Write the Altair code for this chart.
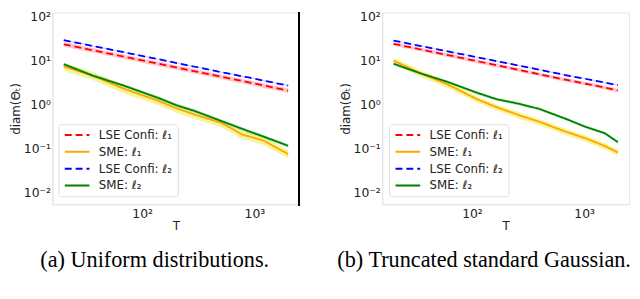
import altair as alt
import pandas as pd

SERIES = ["LSE Confi: ℓ₁", "SME: ℓ₁", "LSE Confi: ℓ₂", "SME: ℓ₂"]
LINE_COLORS = ["#ff0000", "#ffa500", "#0000ff", "#008000"]
BAND_COLORS = ["#ff9aa8", "#f2ea3a", "#9a9aff", "#8fdc8f"]
DASHES = [[7, 4], [1, 0], [7, 4], [1, 0]]

# (a) Uniform distributions
T_A = [20, 36, 70, 140, 204, 295, 500, 615, 776, 887, 1200, 2000]
LSE1_A = [23, 16.9, 11.9, 8.3, 6.8, 5.6, 4.25, 3.8, 3.4, 3.15, 2.67, 2.05]
SME1_A = [7.2, 4.5, 2.2, 1.19, 0.80, 0.58, 0.38, 0.29, 0.206, 0.187, 0.150, 0.074]
LSE2_A = [28.5, 21.1, 15.0, 10.5, 8.6, 7.1, 5.4, 4.9, 4.3, 4.05, 3.45, 2.65]
SME2_A = [8.1, 4.5, 2.6, 1.38, 0.94, 0.70, 0.42, 0.346, 0.277, 0.244, 0.185, 0.114]
SPREAD_A = [0.12, 0.2, 0.03, 0.1]

# (b) Truncated standard Gaussian
T_B = [20, 35, 61, 111, 166, 265, 397, 680, 1018, 1524, 2000]
LSE1_B = [23.6, 17.5, 13.1, 9.5, 7.7, 6.0, 4.8, 3.6, 2.95, 2.4, 2.05]
SME1_B = [9.8, 5.0, 2.8, 1.30, 0.855, 0.56, 0.40, 0.24, 0.17, 0.113, 0.080]
LSE2_B = [28.0, 21.0, 15.8, 11.7, 9.5, 7.5, 6.1, 4.6, 3.8, 3.1, 2.7]
SME2_B = [8.3, 5.0, 3.2, 1.82, 1.30, 1.02, 0.785, 0.47, 0.31, 0.22, 0.138]
SPREAD_B = [0.1, 0.16, 0.03, 0.08]

Y_TICKS = [0.01, 0.1, 1, 10, 100]
X_TICKS = [100, 1000]


def make_df(T, cols, spreads):
    rows = []
    for name, vals, sp in zip(SERIES, cols, spreads):
        for t, v in zip(T, vals):
            rows.append({"T": t, "v": v, "lo": v * (1 - sp), "hi": v * (1 + sp), "series": name})
    return pd.DataFrame(rows)


ylab = ("datum.value > 50 ? '10²' : datum.value > 5 ? '10¹' : datum.value > 0.5 ? '10⁰' : "
        "datum.value > 0.05 ? '10⁻¹' : '10⁻²'")
xlab = "datum.value > 500 ? '10³' : '10²'"

W, H = 250, 194


def legend(lx):
    return alt.Legend(title=None, orient="none", legendX=lx, legendY=113,
                      symbolType="M-2.5,0H2.5", symbolSize=100,
                      symbolStrokeWidth=2, symbolOffset=8, labelOffset=16,
                      labelFontSize=12, labelFont="DejaVu Sans", labelColor="#222",
                      rowPadding=5, padding=5, fillColor="white",
                      strokeColor="#dddddd", cornerRadius=3)


def panel(df, caption, black_edge, legend_x):
    xs = alt.X("T:Q", scale=alt.Scale(type="log", domain=[10 ** 1.2, 10 ** 3.4], nice=False),
               axis=alt.Axis(values=X_TICKS, labelExpr=xlab, title="T", grid=False, ticks=False,
                             labelPadding=3, titlePadding=1, domainColor="#e4e4e4"))
    ys = alt.Y("v:Q", scale=alt.Scale(type="log", domain=[10 ** -2.27, 10 ** 2.08], nice=False),
               axis=alt.Axis(values=Y_TICKS, labelExpr=ylab, title="diam(Θₜ)", grid=False, ticks=False,
                             labelPadding=2, titlePadding=1, domainColor="#e4e4e4"))
    band = alt.Chart(df).mark_area(opacity=0.55).encode(
        x="T:Q", y="lo:Q", y2="hi:Q",
        fill=alt.Fill("series:N", scale=alt.Scale(domain=SERIES, range=BAND_COLORS), legend=None),
        detail="series:N",
    )
    line = alt.Chart(df).mark_line(strokeWidth=1.8).encode(
        x=xs, y=ys,
        color=alt.Color("series:N", scale=alt.Scale(domain=SERIES, range=LINE_COLORS),
                        sort=SERIES, legend=legend(legend_x)),
        strokeDash=alt.StrokeDash("series:N", scale=alt.Scale(domain=SERIES, range=DASHES),
                                  sort=SERIES, legend=legend(legend_x)),
    )
    layers = [band, line]
    if black_edge:
        edge = alt.Chart(df).mark_rule(color="black", strokeWidth=1.5).encode(
            x=alt.value(W), y=alt.value(0), y2=alt.value(H + 1))
        layers.append(edge)
    return alt.layer(*layers).properties(
        width=W, height=H,
        title=alt.TitleParams(caption, orient="bottom", font="Liberation Serif", fontSize=22.5,
                              fontWeight="normal", color="black", offset=18, anchor="middle",
                              frame="bounds"),
    ).resolve_scale(color="independent", strokeDash="independent", fill="independent")


df_a = make_df(T_A, [LSE1_A, SME1_A, LSE2_A, SME2_A], SPREAD_A)
df_b = make_df(T_B, [LSE1_B, SME1_B, LSE2_B, SME2_B], SPREAD_B)

chart = alt.hconcat(
    panel(df_a, "(a) Uniform distributions.", True, 6),
    panel(df_b, "(b) Truncated standard Gaussian.", False, 7),
    spacing=35,
).resolve_scale(color="independent", strokeDash="independent", fill="independent").configure(
    padding=0
).configure_view(
    stroke="#e6e6e6"
).configure_axis(
    labelFont="DejaVu Sans", labelFontSize=12.5, labelColor="#222",
    titleFont="DejaVu Sans", titleFontSize=12, titleFontWeight="normal", titleColor="#222",
)

chart.save("out.html", embed_options={"renderer": "svg", "actions": False})
